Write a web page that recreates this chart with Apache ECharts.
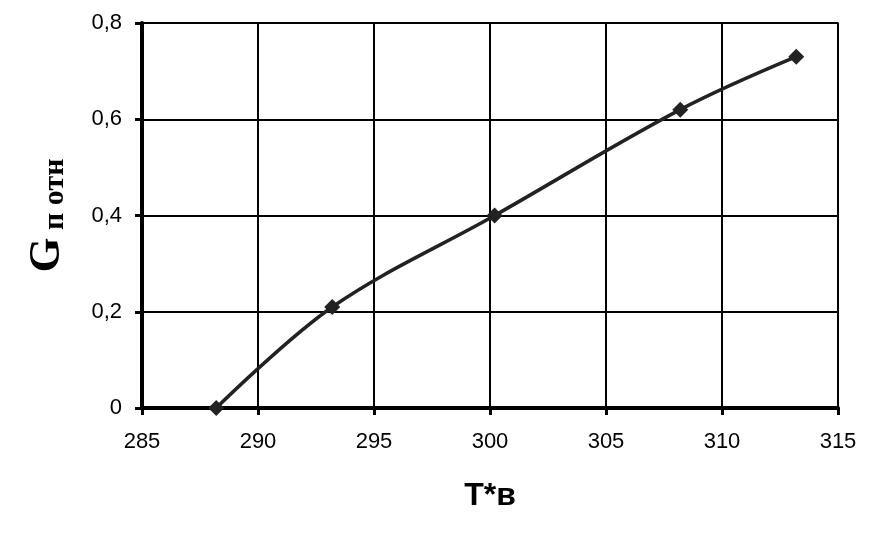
<!DOCTYPE html>
<html><head><meta charset="utf-8">
<script src="https://cdn.jsdelivr.net/npm/echarts@6/dist/echarts.min.js"></script>
<style>html,body{margin:0;padding:0;background:#fff}#c{width:880px;height:541px}</style>
</head><body><div id="c"></div>
<script>
var xValues = [288.2, 293.2, 300.2, 308.2, 313.2];
var yValues = [0, 0.21, 0.40, 0.62, 0.73];
var xTicks = [285, 290, 295, 300, 305, 310, 315];
var yTicks = [0, 0.2, 0.4, 0.6, 0.8];

var chart = echarts.init(document.getElementById('c'));
chart.setOption({
  backgroundColor: '#fff',
  animation: false,
  grid: {left: 142, right: 42, top: 23, bottom: 133, show: true, borderColor: '#888', borderWidth: 2, backgroundColor: 'transparent'},
  xAxis: {
    type: 'value', min: 285, max: 315, interval: 5,
    axisLine: {show: true, onZero: false, lineStyle: {color: '#000', width: 4}},
    axisTick: {show: true, length: 7, lineStyle: {color: '#000', width: 3}},
    axisLabel: {color: '#000', fontFamily: 'Liberation Sans, Arial', fontSize: 22, margin: 23},
    splitLine: {show: true, lineStyle: {color: '#000', width: 2}},
    name: 'T*в', nameLocation: 'middle', nameGap: 72,
    nameTextStyle: {fontFamily: 'Liberation Sans, Arial', fontWeight: 'bold', fontSize: 32, color: '#000'}
  },
  yAxis: {
    type: 'value', min: 0, max: 0.8, interval: 0.2,
    axisLine: {show: true, onZero: false, lineStyle: {color: '#000', width: 4}},
    axisTick: {show: true, length: 7, lineStyle: {color: '#000', width: 3}},
    axisLabel: {color: '#000', fontFamily: 'Liberation Sans, Arial', fontSize: 22, margin: 20,
      formatter: function(v){ return String(Math.round(v*10)/10).replace('.', ','); }},
    splitLine: {show: true, lineStyle: {color: '#000', width: 2}},
    name: '{g|G}{p| п отн}', nameLocation: 'middle', nameGap: 72, nameRotate: 90,
    nameTextStyle: {rich: {
      g: {fontFamily: 'Liberation Serif, Times New Roman', fontWeight: 'bold', fontSize: 45, color: '#000', verticalAlign: 'bottom'},
      p: {fontFamily: 'Liberation Serif, Times New Roman', fontWeight: 'bold', fontSize: 30, color: '#000', verticalAlign: 'bottom'}
    }}
  },
  series: [{
    type: 'line', smooth: 0.35,
    data: xValues.map(function(x, i){ return [x, yValues[i]]; }),
    symbol: 'diamond', symbolSize: 16,
    lineStyle: {color: '#222', width: 3.5},
    itemStyle: {color: '#222'}
  }]
});
</script></body></html>
